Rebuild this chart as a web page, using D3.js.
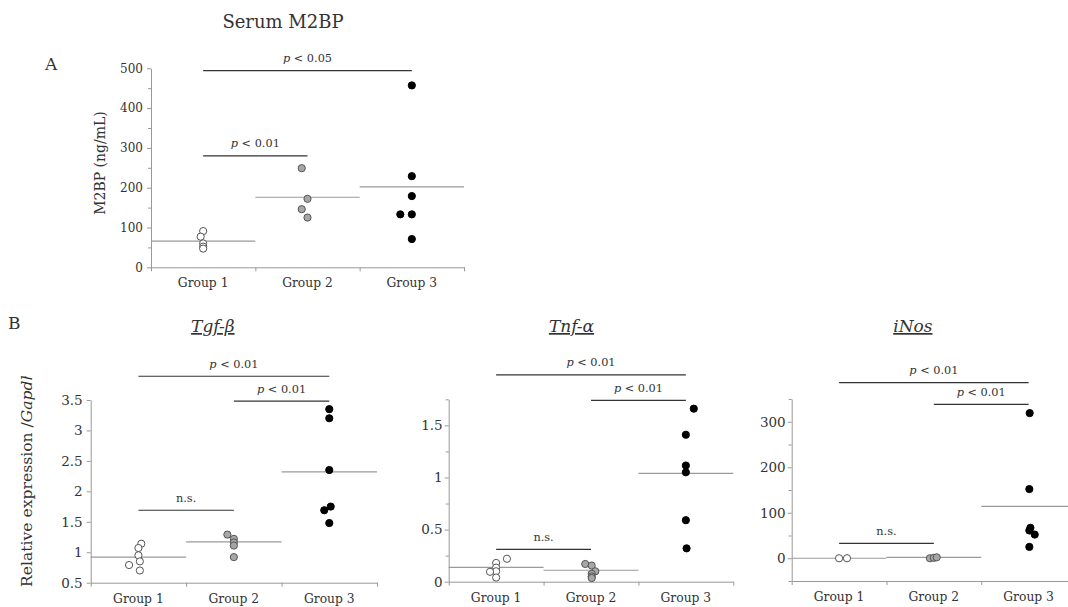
<!DOCTYPE html>
<html>
<head>
<meta charset="utf-8">
<script src="https://cdn.jsdelivr.net/npm/d3@7"></script>
<style>
  body { margin: 0; background: #fff; }
  svg text { font-family: "DejaVu Serif", serif; fill: #333; }
</style>
</head>
<body>
<div id="chart"></div>
<script>
const groups = ["Group 1", "Group 2", "Group 3"];

// Serum M2BP (ng/mL)
const m2bpValues = [[91, 77, 60, 52, 47], [249, 172, 146, 125], [457, 229, 179, 133, 133, 71]];
const m2bpJitter = [[0, -0.35, 0, 0, 0], [-0.8, 0, -0.8, 0], [0, 0, 0, 0, -1.6, 0]];
const m2bpMeans = [66, 176, 202];
const m2bpSig = [[0, 2, 494, "p", " < 0.05"], [0, 1, 280, "p", " < 0.01"]];

// Tgf-beta / Gapdh
const tgfValues = [[1.14, 1.07, 0.95, 0.85, 0.79, 0.70], [1.29, 1.22, 1.16, 1.11, 0.92], [3.35, 3.20, 2.35, 1.75, 1.69, 1.48]];
const tgfJitter = [[0.4, 0, 0, 0.2, -1.3, 0.2], [-0.9, 0, 0, 0, 0], [0, 0, 0, 0.2, -0.7, 0]];
const tgfMeans = [0.92, 1.17, 2.32];
const tgfSig = [[0, 2, 3.89, "p", " < 0.01"], [1, 2, 3.48, "p", " < 0.01"], [0, 1, 1.69, "", "n.s."]];

// Tnf-alpha / Gapdh
const tnfValues = [[0.22, 0.18, 0.135, 0.10, 0.095, 0.04], [0.17, 0.155, 0.10, 0.075, 0.05, 0.035], [1.66, 1.41, 1.115, 1.05, 0.59, 0.32]];
const tnfJitter = [[1.5, 0, 0, 0, -0.85, 0], [-0.8, 0.1, 0.6, 0.1, 0.1, 0.1], [1.1, 0, 0, 0, 0, 0.1]];
const tnfMeans = [0.138, 0.11, 1.04];
const tnfSig = [[0, 2, 1.985, "p", " < 0.01"], [1, 2, 1.74, "p", " < 0.01"], [0, 1, 0.31, "", "n.s."]];

// iNos / Gapdh
const inosValues = [[0, 0], [0, 1, 2], [319, 152, 67, 61, 52, 25]];
const inosJitter = [[0, 1.1], [-0.55, 0, 0.4], [0.15, 0.1, 0.25, 0.1, 0.85, 0.1]];
const inosMeans = [0, 2, 114];
const inosSig = [[0, 2, 386, "p", " < 0.01"], [1, 2, 338, "p", " < 0.01"], [0, 1, 32.5, "", "n.s."]];

const pointFill = ["#fff", "#a6a6a6", "#000"];
const pointStroke = ["#555", "#555", "#000"];

let svg = d3.select("#chart")
    .append("svg")
    .attr("width", 1068)
    .attr("height", 607);

function drawPanel(p) {
    let g = svg.append("g");

    let x = d3.scaleBand().domain(groups).range([p.x0, p.x1]);
    let edge = d3.scaleLinear().domain([0, 3]).range([p.x0, p.x1]);
    let y = d3.scaleLinear().domain(p.domain).range([p.yBottom, p.yTop]);

    // minor y ticks
    g.append("g")
        .attr("transform", `translate(${p.x0},0)`)
        .call(d3.axisLeft(y).tickValues(p.minor).tickSize(3).tickFormat("").tickSizeOuter(0))
        .call(a => a.select(".domain").remove())
        .call(a => a.selectAll("line").attr("stroke", "#999"));

    // major y ticks
    g.append("g")
        .attr("transform", `translate(${p.x0},0)`)
        .call(d3.axisLeft(y).tickValues(p.ticks).tickSize(4).tickPadding(p.pad).tickSizeOuter(0).tickFormat(d => d))
        .call(a => a.select(".domain").attr("stroke", "#999"))
        .call(a => a.selectAll("line").attr("stroke", "#999"))
        .call(a => a.selectAll("text")
            .style("font-family", '"DejaVu Serif", serif')
            .style("font-size", p.tickFont + "px")
            .attr("fill", "#333"));

    // x axis with category boundaries
    g.append("g")
        .attr("transform", `translate(0,${p.yBottom})`)
        .call(d3.axisBottom(edge).tickValues([0, 1, 2, 3]).tickSize(4).tickSizeOuter(0).tickFormat(""))
        .call(a => a.select(".domain").attr("stroke", "#999"))
        .call(a => a.selectAll("line").attr("stroke", "#999"));

    g.selectAll(".glabel")
        .data(groups)
        .enter()
        .append("text")
        .attr("x", d => x(d) + x.bandwidth() / 2)
        .attr("y", p.yBottom + 20)
        .attr("text-anchor", "middle")
        .style("font-size", "12.3px")
        .text(d => d);

    // mean lines
    g.selectAll(".mean")
        .data(p.means)
        .enter()
        .append("line")
        .attr("x1", (d, i) => x(groups[i]))
        .attr("x2", (d, i) => x(groups[i]) + x.bandwidth())
        .attr("y1", d => y(d))
        .attr("y2", d => y(d))
        .attr("stroke", "#9a9a9a")
        .attr("stroke-width", 1.2);

    // points
    let pts = [];
    p.values.forEach((vals, gi) => {
        vals.forEach((v, k) => pts.push({ g: gi, v: v, j: p.jitter[gi][k] }));
    });
    let r = 3.6;
    g.selectAll("circle")
        .data(pts)
        .enter()
        .append("circle")
        .attr("cx", d => x(groups[d.g]) + x.bandwidth() / 2 + d.j * r * 2)
        .attr("cy", d => y(d.v))
        .attr("r", r)
        .attr("fill", d => pointFill[d.g])
        .attr("stroke", d => pointStroke[d.g])
        .attr("stroke-width", 1);

    // significance bars
    p.sig.forEach(s => {
        let xa = x(groups[s[0]]) + x.bandwidth() / 2;
        let xb = x(groups[s[1]]) + x.bandwidth() / 2;
        g.append("line")
            .attr("x1", xa).attr("x2", xb)
            .attr("y1", y(s[2])).attr("y2", y(s[2]))
            .attr("stroke", "#333")
            .attr("stroke-width", 1.2);
        let t = g.append("text")
            .attr("x", (xa + xb) / 2)
            .attr("y", y(s[2]) - 8.5)
            .attr("text-anchor", "middle")
            .style("font-size", "11.3px");
        if (s[3]) t.append("tspan").style("font-style", "italic").text(s[3]);
        t.append("tspan").text(s[4]);
    });

    // panel title
    let title = g.append("text")
        .attr("x", (p.x0 + p.x1) / 2 - p.titleShift)
        .attr("y", p.titleY)
        .attr("text-anchor", "middle")
        .style("font-size", p.titleFont + "px")
        .text(p.title);
    if (p.titleItalic) {
        title.style("font-style", "italic").style("text-decoration", "underline");
    }
    return g;
}

drawPanel({
    values: m2bpValues, jitter: m2bpJitter, means: m2bpMeans, sig: m2bpSig,
    x0: 151, x1: 464, yTop: 68.3, yBottom: 267.3, domain: [0, 500],
    ticks: [0, 100, 200, 300, 400, 500], minor: [50, 150, 250, 350, 450],
    pad: 4, tickFont: 12, title: "Serum M2BP", titleY: 28, titleFont: 18, titleShift: 24.5
});

drawPanel({
    values: tgfValues, jitter: tgfJitter, means: tgfMeans, sig: tgfSig,
    x0: 90.7, x1: 377, yTop: 400, yBottom: 582.7, domain: [0.5, 3.5],
    ticks: [0.5, 1, 1.5, 2, 2.5, 3, 3.5], minor: [],
    pad: 4, tickFont: 13.5, title: "Tgf-β", titleY: 332, titleFont: 17, titleShift: 21, titleItalic: true
});

drawPanel({
    values: tnfValues, jitter: tnfJitter, means: tnfMeans, sig: tnfSig,
    x0: 448.7, x1: 733.3, yTop: 399.3, yBottom: 581.7, domain: [0, 1.75],
    ticks: [0, 0.5, 1, 1.5], minor: [0.25, 0.75, 1.25, 1.75],
    pad: 2, tickFont: 13.5, title: "Tnf-α", titleY: 332, titleFont: 17, titleShift: 19.5, titleItalic: true
});

drawPanel({
    values: inosValues, jitter: inosJitter, means: inosMeans, sig: inosSig,
    x0: 791.7, x1: 1076, yTop: 399, yBottom: 581, domain: [-50, 350],
    ticks: [0, 100, 200, 300], minor: [-50, 50, 150, 250, 350],
    pad: 2, tickFont: 13.5, title: "iNos", titleY: 332, titleFont: 17, titleShift: 21, titleItalic: true
});

// panel letters
svg.append("text").attr("x", 45).attr("y", 70).style("font-size", "17px").attr("fill", "#000").text("A");
svg.append("text").attr("x", 8).attr("y", 329).style("font-size", "17px").attr("fill", "#000").text("B");

// y axis titles
svg.append("text")
    .attr("transform", "translate(105,163) rotate(-90)")
    .attr("text-anchor", "middle")
    .style("font-size", "14px")
    .text("M2BP (ng/mL)");

svg.append("clipPath").attr("id", "ylabClip")
    .append("rect").attr("x", 0).attr("y", 376).attr("width", 60).attr("height", 231);

let ylab = svg.append("g")
    .attr("clip-path", "url(#ylabClip)")
    .append("text")
    .attr("transform", "translate(32,587) rotate(-90)")
    .style("font-size", "15.6px");
ylab.append("tspan").text("Relative expression /");
ylab.append("tspan").style("font-style", "italic").text("Gapdh");
</script>
</body>
</html>
